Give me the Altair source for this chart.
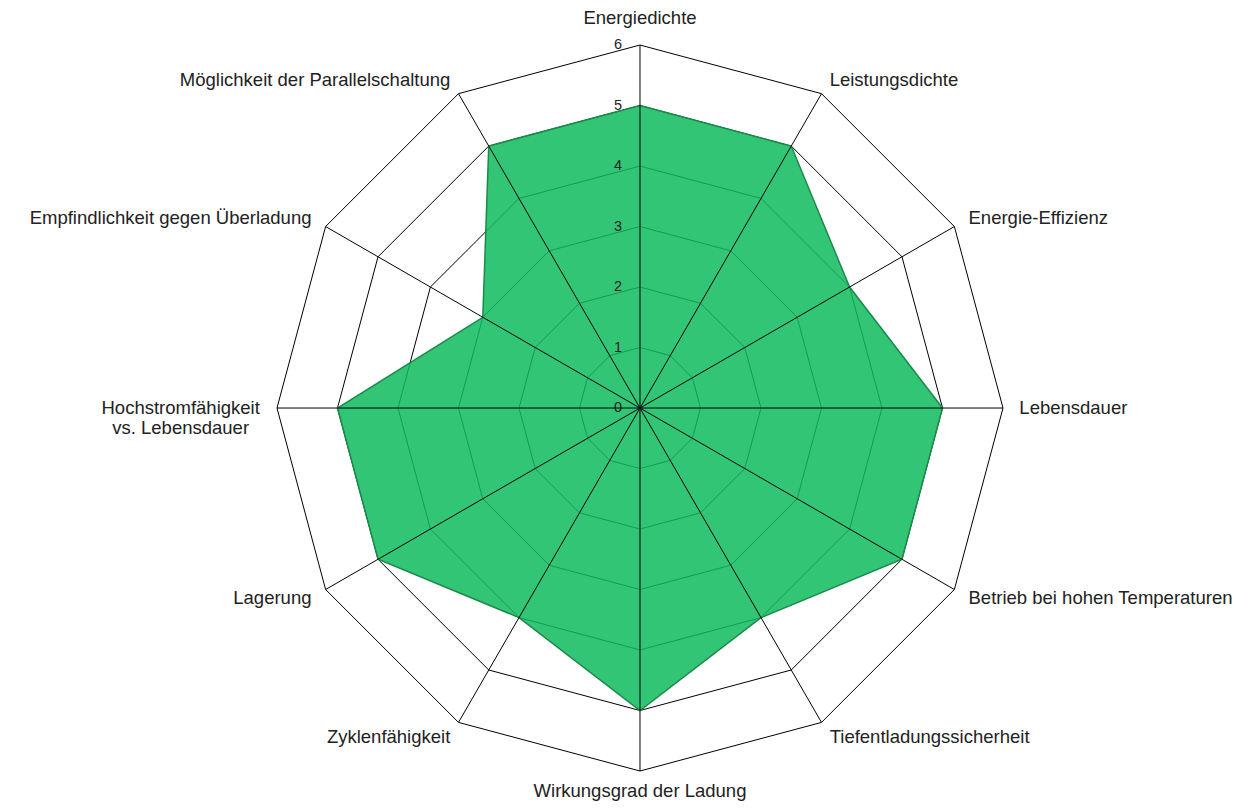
import altair as alt
import pandas as pd

categories = [
    "Energiedichte", "Leistungsdichte", "Energie-Effizienz", "Lebensdauer",
    "Betrieb bei hohen Temperaturen", "Tiefentladungssicherheit",
    "Wirkungsgrad der Ladung", "Zyklenfähigkeit", "Lagerung",
    "Hochstromfähigkeit\nvs. Lebensdauer", "Empfindlichkeit gegen Überladung",
    "Möglichkeit der Parallelschaltung",
]
values = [5, 5, 4, 5, 5, 4, 5, 4, 5, 5, 3, 5]
levels = [1, 2, 3, 4, 5, 6]
tick_values = [0, 1, 2, 3, 4, 5, 6]
tick_labels = ["0", "1", "2", "3", "4", "5", "6"]

N = len(categories)
RMAX = 6
LABEL_R = 6.27
LABEL_R_TOP = 6.44
LABEL_R_BOTTOM = 6.33

vals_df = pd.DataFrame({"category": categories, "value": values, "idx": list(range(N))})
rings_df = pd.DataFrame(
    [{"level": lv, "idx": i} for lv in levels for i in range(N)]
)
ticks_df = pd.DataFrame({"v": tick_values, "label": tick_labels})

xs = alt.Scale(domain=[-10.446, 10.099], nice=False, zero=False)
ys = alt.Scale(domain=[-6.512, 6.612], nice=False, zero=False)

ANG = f"datum.idx * 2 * PI / {N}"

rings = alt.Chart(rings_df).transform_calculate(
    ang=ANG
).transform_calculate(
    x="datum.level * sin(datum.ang)", y="datum.level * cos(datum.ang)"
).mark_line(interpolate="linear-closed", color="#000000", strokeWidth=1).encode(
    x=alt.X("x:Q", scale=xs, axis=None),
    y=alt.Y("y:Q", scale=ys, axis=None),
    detail="level:N",
    order="idx:Q",
)

poly = alt.Chart(vals_df).transform_calculate(
    ang=ANG
).transform_calculate(
    x="datum.value * sin(datum.ang)", y="datum.value * cos(datum.ang)"
).mark_line(
    interpolate="linear-closed", fill="#0fbb5e", fillOpacity=0.85,
    stroke="#1a8a4a", strokeWidth=1.5,
).encode(
    x=alt.X("x:Q", scale=xs, axis=None),
    y=alt.Y("y:Q", scale=ys, axis=None),
    order="idx:Q",
)

spokes = alt.Chart(vals_df).transform_calculate(
    ang=ANG
).transform_calculate(
    x0="0", y0="0",
    x=f"{RMAX} * sin(datum.ang)", y=f"{RMAX} * cos(datum.ang)",
).mark_rule(color="#000000", strokeWidth=1).encode(
    x=alt.X("x0:Q", scale=xs, axis=None),
    y=alt.Y("y0:Q", scale=ys, axis=None),
    x2="x:Q",
    y2="y:Q",
)

ticks = alt.Chart(ticks_df).transform_calculate(x0="0").mark_text(
    align="right", baseline="middle", dx=-18, fontSize=14.5,
    font="Liberation Sans", color="#222222",
).encode(
    x=alt.X("x0:Q", scale=xs, axis=None),
    y=alt.Y("v:Q", scale=ys, axis=None),
    text="label:N",
)

def label_layer(filter_expr, radius, align, dx=0):
    return alt.Chart(vals_df).transform_calculate(
        ang=ANG
    ).transform_filter(filter_expr).transform_calculate(
        x=f"{radius} * sin(datum.ang)", y=f"{radius} * cos(datum.ang)"
    ).mark_text(
        align=align, baseline="middle", fontSize=18.5, font="Liberation Sans",
        color="#222222", lineBreak="\n", lineHeight=20, dx=dx,
    ).encode(
        x=alt.X("x:Q", scale=xs, axis=None),
        y=alt.Y("y:Q", scale=ys, axis=None),
        text="category:N",
    )

lab_top = label_layer("datum.idx == 0", LABEL_R_TOP, "center")
lab_bottom = label_layer("datum.idx == 6", LABEL_R_BOTTOM, "center")
lab_left = label_layer("datum.idx > 0 && datum.idx < 6", LABEL_R, "left")
lab_right = label_layer("datum.idx > 6 && datum.idx != 9", LABEL_R, "right")
lab_hoch = label_layer("datum.idx == 9", LABEL_R, "center", dx=-80)

chart = alt.layer(
    rings, poly, spokes, ticks, lab_top, lab_bottom, lab_left, lab_right, lab_hoch
).properties(
    width=1243, height=794, autosize=alt.AutoSizeParams(type="none"), padding=0
).configure_view(stroke=None)

chart.save("out.html", embed_options={"renderer": "svg", "actions": False})
